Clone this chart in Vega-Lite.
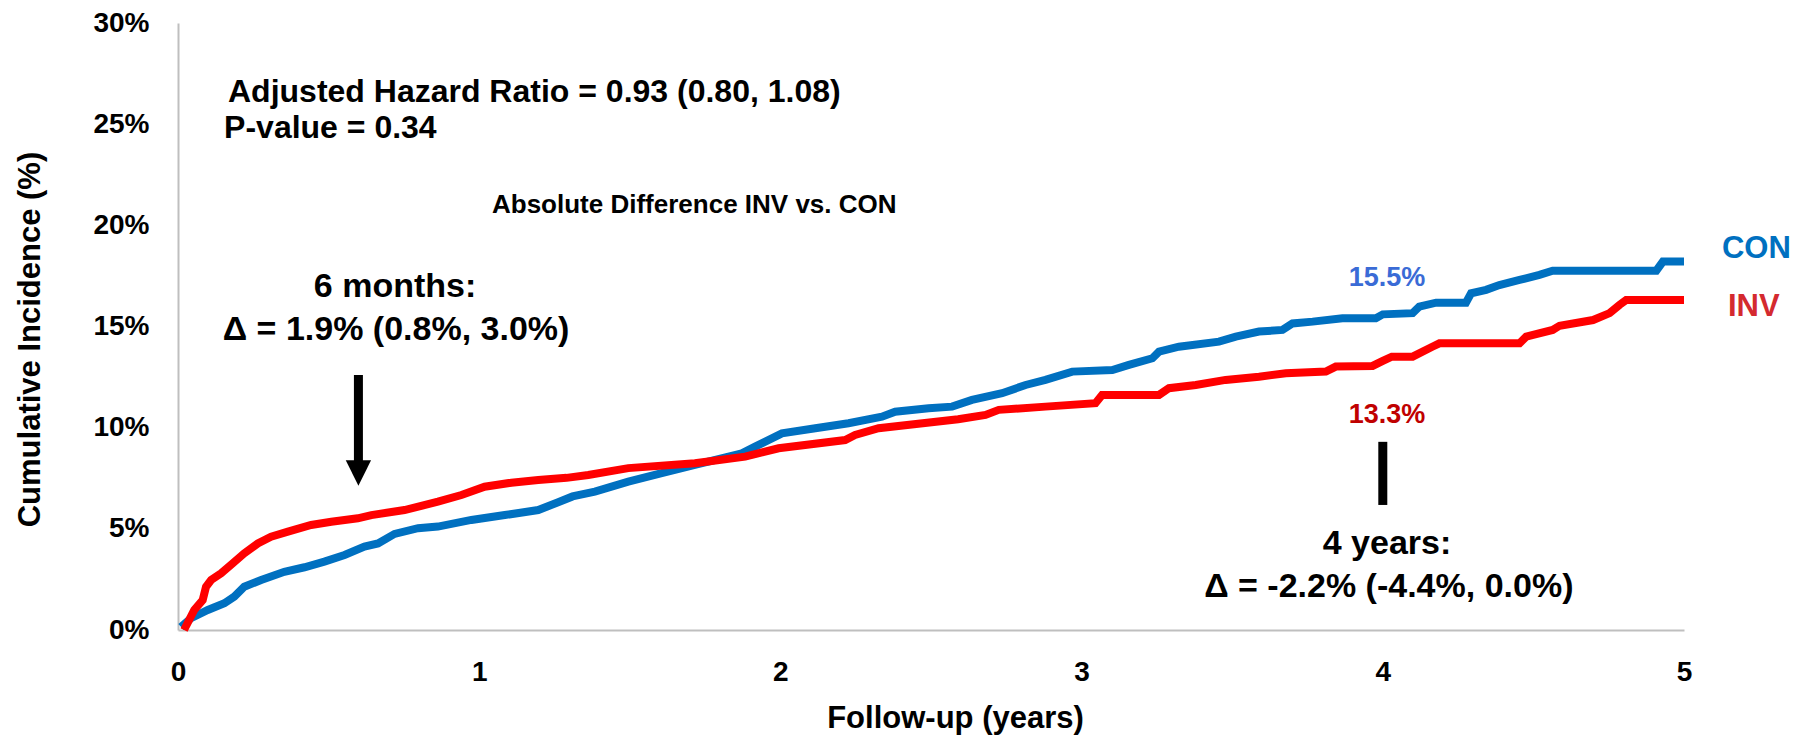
{
  "$schema": "https://vega.github.io/schema/vega-lite/v6.json",
  "width": 1506,
  "height": 607,
  "autosize": {"type": "none"},
  "padding": {"left": 178, "top": 23, "right": 119, "bottom": 112},
  "background": "white",
  "config": {"view": {"stroke": null}, "font": "Liberation Sans"},
  "datasets": {
    "curves": [
      {"group": "CON", "year": 0.01, "pct": 0.15},
      {"group": "CON", "year": 0.043, "pct": 0.58},
      {"group": "CON", "year": 0.099, "pct": 0.99},
      {"group": "CON", "year": 0.154, "pct": 1.32},
      {"group": "CON", "year": 0.187, "pct": 1.65},
      {"group": "CON", "year": 0.22, "pct": 2.14},
      {"group": "CON", "year": 0.276, "pct": 2.47},
      {"group": "CON", "year": 0.353, "pct": 2.88},
      {"group": "CON", "year": 0.42, "pct": 3.1},
      {"group": "CON", "year": 0.486, "pct": 3.38},
      {"group": "CON", "year": 0.553, "pct": 3.71},
      {"group": "CON", "year": 0.619, "pct": 4.12},
      {"group": "CON", "year": 0.664, "pct": 4.28},
      {"group": "CON", "year": 0.719, "pct": 4.75},
      {"group": "CON", "year": 0.797, "pct": 5.03},
      {"group": "CON", "year": 0.863, "pct": 5.11},
      {"group": "CON", "year": 0.974, "pct": 5.44},
      {"group": "CON", "year": 1.085, "pct": 5.68},
      {"group": "CON", "year": 1.196, "pct": 5.93},
      {"group": "CON", "year": 1.26, "pct": 6.3},
      {"group": "CON", "year": 1.31, "pct": 6.6},
      {"group": "CON", "year": 1.384, "pct": 6.84},
      {"group": "CON", "year": 1.495, "pct": 7.33},
      {"group": "CON", "year": 1.606, "pct": 7.75},
      {"group": "CON", "year": 1.716, "pct": 8.16},
      {"group": "CON", "year": 1.872, "pct": 8.73},
      {"group": "CON", "year": 1.916, "pct": 9.06},
      {"group": "CON", "year": 2.005, "pct": 9.72},
      {"group": "CON", "year": 2.116, "pct": 9.97},
      {"group": "CON", "year": 2.226, "pct": 10.22},
      {"group": "CON", "year": 2.337, "pct": 10.54},
      {"group": "CON", "year": 2.381, "pct": 10.79},
      {"group": "CON", "year": 2.492, "pct": 10.96},
      {"group": "CON", "year": 2.57, "pct": 11.04},
      {"group": "CON", "year": 2.636, "pct": 11.37},
      {"group": "CON", "year": 2.736, "pct": 11.7},
      {"group": "CON", "year": 2.814, "pct": 12.11},
      {"group": "CON", "year": 2.88, "pct": 12.36},
      {"group": "CON", "year": 2.969, "pct": 12.77},
      {"group": "CON", "year": 3.102, "pct": 12.85},
      {"group": "CON", "year": 3.157, "pct": 13.1},
      {"group": "CON", "year": 3.235, "pct": 13.43},
      {"group": "CON", "year": 3.257, "pct": 13.76},
      {"group": "CON", "year": 3.323, "pct": 14.0},
      {"group": "CON", "year": 3.456, "pct": 14.25},
      {"group": "CON", "year": 3.512, "pct": 14.5},
      {"group": "CON", "year": 3.589, "pct": 14.75},
      {"group": "CON", "year": 3.667, "pct": 14.83},
      {"group": "CON", "year": 3.7, "pct": 15.15},
      {"group": "CON", "year": 3.767, "pct": 15.24},
      {"group": "CON", "year": 3.866, "pct": 15.41},
      {"group": "CON", "year": 3.977, "pct": 15.41},
      {"group": "CON", "year": 4.0, "pct": 15.6},
      {"group": "CON", "year": 4.099, "pct": 15.66},
      {"group": "CON", "year": 4.121, "pct": 15.98},
      {"group": "CON", "year": 4.177, "pct": 16.18},
      {"group": "CON", "year": 4.276, "pct": 16.18},
      {"group": "CON", "year": 4.293, "pct": 16.64},
      {"group": "CON", "year": 4.343, "pct": 16.81},
      {"group": "CON", "year": 4.387, "pct": 17.05},
      {"group": "CON", "year": 4.454, "pct": 17.3},
      {"group": "CON", "year": 4.52, "pct": 17.55},
      {"group": "CON", "year": 4.564, "pct": 17.76},
      {"group": "CON", "year": 4.908, "pct": 17.76},
      {"group": "CON", "year": 4.93, "pct": 18.21},
      {"group": "CON", "year": 5.0, "pct": 18.21},
      {"group": "INV", "year": 0.02, "pct": 0.0},
      {"group": "INV", "year": 0.054, "pct": 0.99},
      {"group": "INV", "year": 0.082, "pct": 1.48},
      {"group": "INV", "year": 0.093, "pct": 2.14},
      {"group": "INV", "year": 0.11, "pct": 2.47},
      {"group": "INV", "year": 0.143, "pct": 2.8},
      {"group": "INV", "year": 0.182, "pct": 3.3},
      {"group": "INV", "year": 0.22, "pct": 3.79},
      {"group": "INV", "year": 0.265, "pct": 4.28},
      {"group": "INV", "year": 0.309, "pct": 4.61},
      {"group": "INV", "year": 0.365, "pct": 4.86},
      {"group": "INV", "year": 0.442, "pct": 5.19},
      {"group": "INV", "year": 0.509, "pct": 5.35},
      {"group": "INV", "year": 0.597, "pct": 5.52},
      {"group": "INV", "year": 0.642, "pct": 5.68},
      {"group": "INV", "year": 0.752, "pct": 5.93},
      {"group": "INV", "year": 0.863, "pct": 6.34},
      {"group": "INV", "year": 0.941, "pct": 6.67},
      {"group": "INV", "year": 1.018, "pct": 7.08},
      {"group": "INV", "year": 1.107, "pct": 7.28},
      {"group": "INV", "year": 1.196, "pct": 7.41},
      {"group": "INV", "year": 1.29, "pct": 7.52},
      {"group": "INV", "year": 1.362, "pct": 7.66},
      {"group": "INV", "year": 1.495, "pct": 8.0},
      {"group": "INV", "year": 1.716, "pct": 8.24},
      {"group": "INV", "year": 1.883, "pct": 8.57},
      {"group": "INV", "year": 1.994, "pct": 8.98},
      {"group": "INV", "year": 2.215, "pct": 9.39},
      {"group": "INV", "year": 2.248, "pct": 9.64},
      {"group": "INV", "year": 2.326, "pct": 9.97},
      {"group": "INV", "year": 2.59, "pct": 10.42},
      {"group": "INV", "year": 2.681, "pct": 10.63},
      {"group": "INV", "year": 2.725, "pct": 10.88},
      {"group": "INV", "year": 2.88, "pct": 11.04},
      {"group": "INV", "year": 3.046, "pct": 11.21},
      {"group": "INV", "year": 3.068, "pct": 11.62},
      {"group": "INV", "year": 3.257, "pct": 11.62},
      {"group": "INV", "year": 3.29, "pct": 11.95},
      {"group": "INV", "year": 3.379, "pct": 12.11},
      {"group": "INV", "year": 3.478, "pct": 12.36},
      {"group": "INV", "year": 3.589, "pct": 12.52},
      {"group": "INV", "year": 3.678, "pct": 12.69},
      {"group": "INV", "year": 3.811, "pct": 12.77},
      {"group": "INV", "year": 3.844, "pct": 13.02},
      {"group": "INV", "year": 3.966, "pct": 13.05},
      {"group": "INV", "year": 4.0, "pct": 13.3},
      {"group": "INV", "year": 4.03, "pct": 13.51},
      {"group": "INV", "year": 4.099, "pct": 13.51},
      {"group": "INV", "year": 4.166, "pct": 14.01},
      {"group": "INV", "year": 4.188, "pct": 14.17},
      {"group": "INV", "year": 4.454, "pct": 14.17},
      {"group": "INV", "year": 4.476, "pct": 14.5},
      {"group": "INV", "year": 4.564, "pct": 14.83},
      {"group": "INV", "year": 4.587, "pct": 15.04},
      {"group": "INV", "year": 4.698, "pct": 15.32},
      {"group": "INV", "year": 4.753, "pct": 15.66},
      {"group": "INV", "year": 4.786, "pct": 16.07},
      {"group": "INV", "year": 4.808, "pct": 16.31},
      {"group": "INV", "year": 5.0, "pct": 16.31}
    ],
    "rules": [
      {"year": 0.599, "pct": 12.6, "pct2": 8.0},
      {"year": 4.0, "pct": 9.3, "pct2": 6.18}
    ],
    "heads": [
      {"year": 0.599, "pct": 7.76}
    ],
    "stats": [
      {"year": 0.166, "pct": 26.12, "label": "Adjusted Hazard Ratio = 0.93 (0.80, 1.08)"},
      {"year": 0.153, "pct": 24.3, "label": "P-value = 0.34"}
    ],
    "subtitle": [
      {"year": 1.0425, "pct": 20.6, "label": "Absolute Difference INV vs. CON"}
    ],
    "deltas": [
      {"year": 0.7205, "pct": 16.46, "label": "6 months:"},
      {"year": 0.724, "pct": 14.34, "label": "Δ = 1.9% (0.8%, 3.0%)"},
      {"year": 4.014, "pct": 3.76, "label": "4 years:"},
      {"year": 4.02, "pct": 1.63, "label": "Δ = -2.2% (-4.4%, 0.0%)"}
    ],
    "conpct": [{"year": 4.014, "pct": 17.02, "label": "15.5%"}],
    "invpct": [{"year": 4.014, "pct": 10.25, "label": "13.3%"}],
    "conlab": [{"year": 5.126, "pct": 18.39, "label": "CON"}],
    "invlab": [{"year": 5.146, "pct": 15.52, "label": "INV"}]
  },
  "layer": [
    {
      "data": {"name": "curves"},
      "mark": {"type": "line", "strokeWidth": 8, "strokeCap": "butt"},
      "encoding": {
        "x": {
          "field": "year", "type": "quantitative",
          "scale": {"domain": [0, 5], "nice": false, "zero": false},
          "axis": {
            "values": [0, 1, 2, 3, 4, 5], "format": "d",
            "grid": false, "ticks": false, "tickSize": 0,
            "domainColor": "#BFBFBF", "domainWidth": 2,
            "labelFontSize": 28, "labelFontWeight": "bold", "labelColor": "#000000",
            "labelFont": "Liberation Sans", "labelPadding": 28, "labelFlush": false, "labelOverlap": false,
            "title": "Follow-up (years)", "titleFont": "Liberation Sans", "titleFontSize": 31,
            "titleFontWeight": "bold", "titleColor": "#000000",
            "titleX": 777, "titleY": 97, "titleBaseline": "alphabetic", "titleAlign": "center"
          }
        },
        "y": {
          "field": "pct", "type": "quantitative",
          "scale": {"domain": [0, 30], "nice": false, "zero": true},
          "axis": {
            "values": [0, 5, 10, 15, 20, 25, 30], "labelExpr": "datum.value + '%'",
            "grid": false, "ticks": false, "tickSize": 0,
            "domainColor": "#BFBFBF", "domainWidth": 2,
            "labelFontSize": 28, "labelFontWeight": "bold", "labelColor": "#000000",
            "labelFont": "Liberation Sans", "labelPadding": 29, "labelFlush": false, "labelOverlap": false,
            "title": "Cumulative Incidence (%)", "titleFont": "Liberation Sans", "titleFontSize": 31,
            "titleFontWeight": "bold", "titleColor": "#000000",
            "titleX": -139, "titleY": 316, "titleAngle": -90, "titleBaseline": "alphabetic", "titleAlign": "center"
          }
        },
        "color": {
          "field": "group", "type": "nominal",
          "scale": {"domain": ["CON", "INV"], "range": ["#0070C0", "#FF0000"]},
          "legend": null
        },
        "order": {"field": "year", "type": "quantitative"}
      }
    },
    {
      "data": {"name": "rules"},
      "mark": {"type": "rule", "color": "#000000", "strokeWidth": 9, "strokeCap": "butt"},
      "encoding": {
        "x": {"field": "year", "type": "quantitative", "scale": {"domain": [0, 5], "nice": false, "zero": false}},
        "y": {"field": "pct", "type": "quantitative", "scale": {"domain": [0, 30], "nice": false}},
        "y2": {"field": "pct2"}
      }
    },
    {
      "data": {"name": "heads"},
      "mark": {"type": "point", "shape": "M-1,-1L1,-1L0,1Z", "filled": true, "color": "#000000", "opacity": 1, "size": 640},
      "encoding": {
        "x": {"field": "year", "type": "quantitative", "scale": {"domain": [0, 5], "nice": false, "zero": false}},
        "y": {"field": "pct", "type": "quantitative", "scale": {"domain": [0, 30], "nice": false}}
      }
    },
    {
      "data": {"name": "stats"},
      "mark": {"type": "text", "align": "left", "baseline": "alphabetic", "fontSize": 32, "fontWeight": "bold", "font": "Liberation Sans", "color": "#000000"},
      "encoding": {
        "x": {"field": "year", "type": "quantitative", "scale": {"domain": [0, 5], "nice": false, "zero": false}},
        "y": {"field": "pct", "type": "quantitative", "scale": {"domain": [0, 30], "nice": false}},
        "text": {"field": "label"}
      }
    },
    {
      "data": {"name": "subtitle"},
      "mark": {"type": "text", "align": "left", "baseline": "alphabetic", "fontSize": 26, "fontWeight": "bold", "font": "Liberation Sans", "color": "#000000"},
      "encoding": {
        "x": {"field": "year", "type": "quantitative", "scale": {"domain": [0, 5], "nice": false, "zero": false}},
        "y": {"field": "pct", "type": "quantitative", "scale": {"domain": [0, 30], "nice": false}},
        "text": {"field": "label"}
      }
    },
    {
      "data": {"name": "deltas"},
      "mark": {"type": "text", "align": "center", "baseline": "alphabetic", "fontSize": 34, "fontWeight": "bold", "font": "Liberation Sans", "color": "#000000"},
      "encoding": {
        "x": {"field": "year", "type": "quantitative", "scale": {"domain": [0, 5], "nice": false, "zero": false}},
        "y": {"field": "pct", "type": "quantitative", "scale": {"domain": [0, 30], "nice": false}},
        "text": {"field": "label"}
      }
    },
    {
      "data": {"name": "conpct"},
      "mark": {"type": "text", "align": "center", "baseline": "alphabetic", "fontSize": 27, "fontWeight": "bold", "font": "Liberation Sans", "color": "#3A6BD6"},
      "encoding": {
        "x": {"field": "year", "type": "quantitative", "scale": {"domain": [0, 5], "nice": false, "zero": false}},
        "y": {"field": "pct", "type": "quantitative", "scale": {"domain": [0, 30], "nice": false}},
        "text": {"field": "label"}
      }
    },
    {
      "data": {"name": "invpct"},
      "mark": {"type": "text", "align": "center", "baseline": "alphabetic", "fontSize": 27, "fontWeight": "bold", "font": "Liberation Sans", "color": "#C00000"},
      "encoding": {
        "x": {"field": "year", "type": "quantitative", "scale": {"domain": [0, 5], "nice": false, "zero": false}},
        "y": {"field": "pct", "type": "quantitative", "scale": {"domain": [0, 30], "nice": false}},
        "text": {"field": "label"}
      }
    },
    {
      "data": {"name": "conlab"},
      "mark": {"type": "text", "align": "left", "baseline": "alphabetic", "fontSize": 31, "fontWeight": "bold", "font": "Liberation Sans", "color": "#0070C0"},
      "encoding": {
        "x": {"field": "year", "type": "quantitative", "scale": {"domain": [0, 5], "nice": false, "zero": false}},
        "y": {"field": "pct", "type": "quantitative", "scale": {"domain": [0, 30], "nice": false}},
        "text": {"field": "label"}
      }
    },
    {
      "data": {"name": "invlab"},
      "mark": {"type": "text", "align": "left", "baseline": "alphabetic", "fontSize": 31, "fontWeight": "bold", "font": "Liberation Sans", "color": "#D42A2F"},
      "encoding": {
        "x": {"field": "year", "type": "quantitative", "scale": {"domain": [0, 5], "nice": false, "zero": false}},
        "y": {"field": "pct", "type": "quantitative", "scale": {"domain": [0, 30], "nice": false}},
        "text": {"field": "label"}
      }
    }
  ]
}
